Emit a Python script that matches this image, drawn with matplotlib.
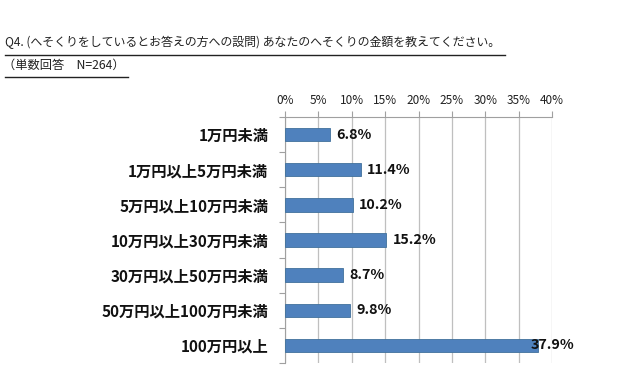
import matplotlib
matplotlib.use("Agg")
import matplotlib.pyplot as plt
from matplotlib.lines import Line2D

plt.rcParams['font.family'] = ['Noto Sans CJK JP', 'DejaVu Sans']

title_line1 = "Q4. (へそくりをしているとお答えの方への設問) あなたのへそくりの金額を教えてください。"
title_line2 = "（単数回答　N=264）"
categories = ["1万円未満", "1万円以上5万円未満", "5万円以上10万円未満", "10万円以上30万円未満",
              "30万円以上50万円未満", "50万円以上100万円未満", "100万円以上"]
values = [6.8, 11.4, 10.2, 15.2, 8.7, 9.8, 37.9]
xticks = [0, 5, 10, 15, 20, 25, 30, 35, 40]
xticklabels = ["0%", "5%", "10%", "15%", "20%", "25%", "30%", "35%", "40%"]

W, H = 640, 370
fig = plt.figure(figsize=(6.4, 3.7), dpi=100)
fig.patch.set_facecolor("white")

# axes: left 285, right 552, top 117, bottom 363 (pixels)
ax = fig.add_axes([285 / W, 1 - 363 / H, (552 - 285) / W, (363 - 117) / H])
n = len(categories)
ypos = list(range(n))
ax.barh(ypos, values, height=0.38, color="#4F81BD", edgecolor="#41719C", linewidth=0.6, zorder=3)
ax.set_ylim(n - 0.5, -0.5)
ax.set_xlim(0, 40)

# gridlines
ax.set_xticks(xticks)
ax.set_xticklabels(xticklabels, fontsize=8.5, color="#222222")
ax.xaxis.tick_top()
ax.tick_params(axis="x", direction="out", length=4, width=0.8, color="#A0A0A0", pad=3)
ax.grid(axis="x", color="#BFBFBF", linewidth=0.9, zorder=0)

# y ticks: labels at centers, tick marks at boundaries
ax.set_yticks(ypos)
ax.set_yticklabels(categories, fontsize=11, fontweight="bold", color="#111111")
ax.tick_params(axis="y", which="major", length=0, pad=12)
ax.set_yticks([i + 0.5 for i in range(-1, n)], minor=True)
ax.tick_params(axis="y", which="minor", direction="out", length=4, width=0.8, color="#A0A0A0")

for side in ["right", "bottom"]:
    ax.spines[side].set_visible(False)
ax.spines["left"].set_color("#A0A0A0")
ax.spines["top"].set_color("#A0A0A0")
ax.spines["left"].set_linewidth(0.8)
ax.spines["top"].set_linewidth(0.8)

# data labels
limit = 43.4
for y, v in zip(ypos, values):
    lx = v + 0.9
    if lx + 6.0 > limit:
        ax.text(limit, y, f"{v:.1f}%", ha="right", va="center", fontsize=10.3,
                fontweight="bold", color="#111111", zorder=5, clip_on=False)
    else:
        ax.text(lx, y, f"{v:.1f}%", ha="left", va="center", fontsize=10.3,
                fontweight="bold", color="#111111", zorder=5, clip_on=False)

# titles with underlines
fig.text(5 / W, 1 - 42 / H, title_line1, fontsize=8.6, ha="left", va="center", color="#222222")
fig.text(3 / W, 1 - 65 / H, title_line2, fontsize=8.8, ha="left", va="center", color="#222222")
fig.add_artist(Line2D([5 / W, 505 / W], [1 - 55 / H, 1 - 55 / H], color="#222222", linewidth=1.0))
fig.add_artist(Line2D([5 / W, 128 / W], [1 - 77 / H, 1 - 77 / H], color="#222222", linewidth=1.0))

fig.savefig("out.png", dpi=100, facecolor="white")
